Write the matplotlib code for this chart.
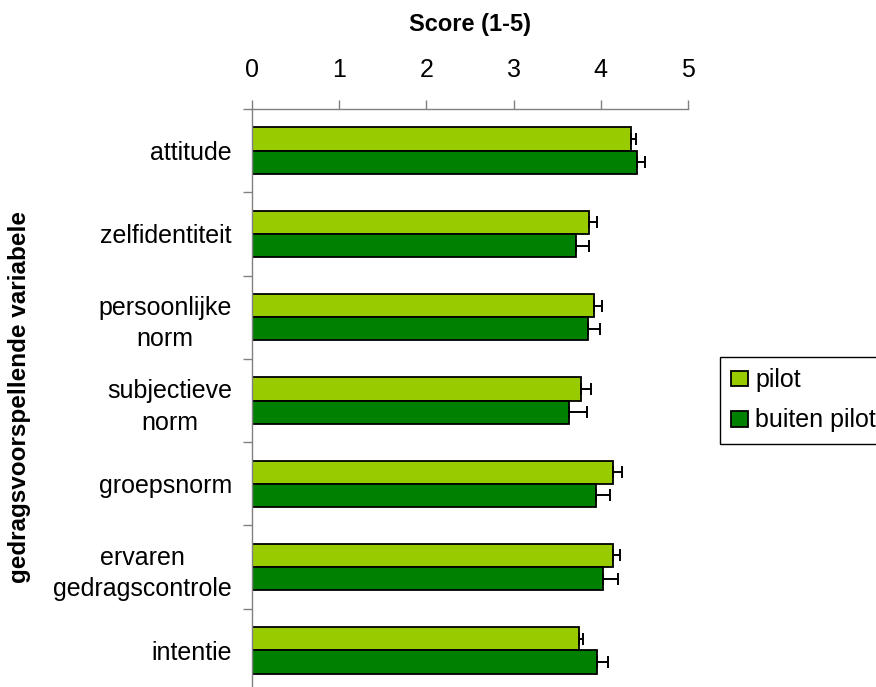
import numpy as np
import matplotlib.pyplot as plt
from matplotlib.ticker import FixedLocator

plt.rcParams['font.family'] = ['Liberation Sans', 'DejaVu Sans']

# data
categories = ['attitude', 'zelfidentiteit', 'persoonlijke\nnorm', 'subjectieve\nnorm',
              'groepsnorm', 'ervaren\ngedragscontrole', 'intentie']
pilot = [4.35, 3.87, 3.92, 3.77, 4.14, 4.14, 3.75]
pilot_err = [0.05, 0.09, 0.09, 0.12, 0.10, 0.08, 0.05]
buiten = [4.42, 3.71, 3.85, 3.64, 3.94, 4.03, 3.96]
buiten_err = [0.09, 0.16, 0.14, 0.20, 0.16, 0.17, 0.12]
xticks = [0, 1, 2, 3, 4, 5]

W, H = 876, 687
fig = plt.figure(figsize=(W / 100, H / 100), dpi=100)
ax = fig.add_axes([252 / W, 1 - 692 / H, 436 / W, 583 / H])

y = np.arange(len(categories))
h = 0.278
err_kw = dict(ecolor='black', elinewidth=1.4, capsize=4.3, capthick=1.4)
ax.barh(y - h / 2, pilot, height=h, color='#99cc00', edgecolor='black', linewidth=1.3,
        xerr=[np.zeros(len(pilot)), pilot_err], error_kw=err_kw, label='pilot')
ax.barh(y + h / 2, buiten, height=h, color='#008000', edgecolor='black', linewidth=1.3,
        xerr=[np.zeros(len(buiten)), buiten_err], error_kw=err_kw, label='buiten pilot')

ax.set_xlim(0, 5)
ax.set_ylim(len(categories) - 0.5, -0.5)

# x axis on top
ax.xaxis.tick_top()
ax.set_xticks(xticks)
ax.tick_params(axis='x', direction='out', length=6.5, width=1, color='#808080',
               labelsize=18, pad=13)

# y ticks at category boundaries, labels at centres
ax.yaxis.set_major_locator(FixedLocator(np.arange(-0.5, len(categories), 1.0)))
ax.yaxis.set_major_formatter(plt.NullFormatter())
ax.yaxis.set_minor_locator(FixedLocator(y))
ax.set_yticklabels(categories, minor=True, multialignment='center', linespacing=1.4)
ax.tick_params(axis='y', which='major', direction='out', length=6.5, width=1, color='#808080')
ax.tick_params(axis='y', which='minor', length=0, labelsize=18, pad=14.5)

for s in ['right', 'bottom']:
    ax.spines[s].set_visible(False)
for s in ['top', 'left']:
    ax.spines[s].set_color('#808080')
    ax.spines[s].set_linewidth(1)

fig.text(470 / W, 1 - 25 / H, 'Score (1-5)', ha='center', va='center',
         fontsize=17, fontweight='bold')
fig.text(20 / W, 1 - 397 / H, 'gedragsvoorspellende variabele', rotation=90,
         ha='center', va='center', fontsize=17.5, fontweight='bold')

leg = ax.legend(loc='upper left', bbox_to_anchor=(720 / W, 1 - 357 / H),
                bbox_transform=fig.transFigure, borderaxespad=0, fancybox=False,
                edgecolor='black', fontsize=18, handlelength=0.65, handleheight=0.6,
                handletextpad=0.3, labelspacing=0.65, borderpad=0.45, framealpha=1)
leg.get_frame().set_linewidth(1)

fig.savefig('out.png', dpi=100)
